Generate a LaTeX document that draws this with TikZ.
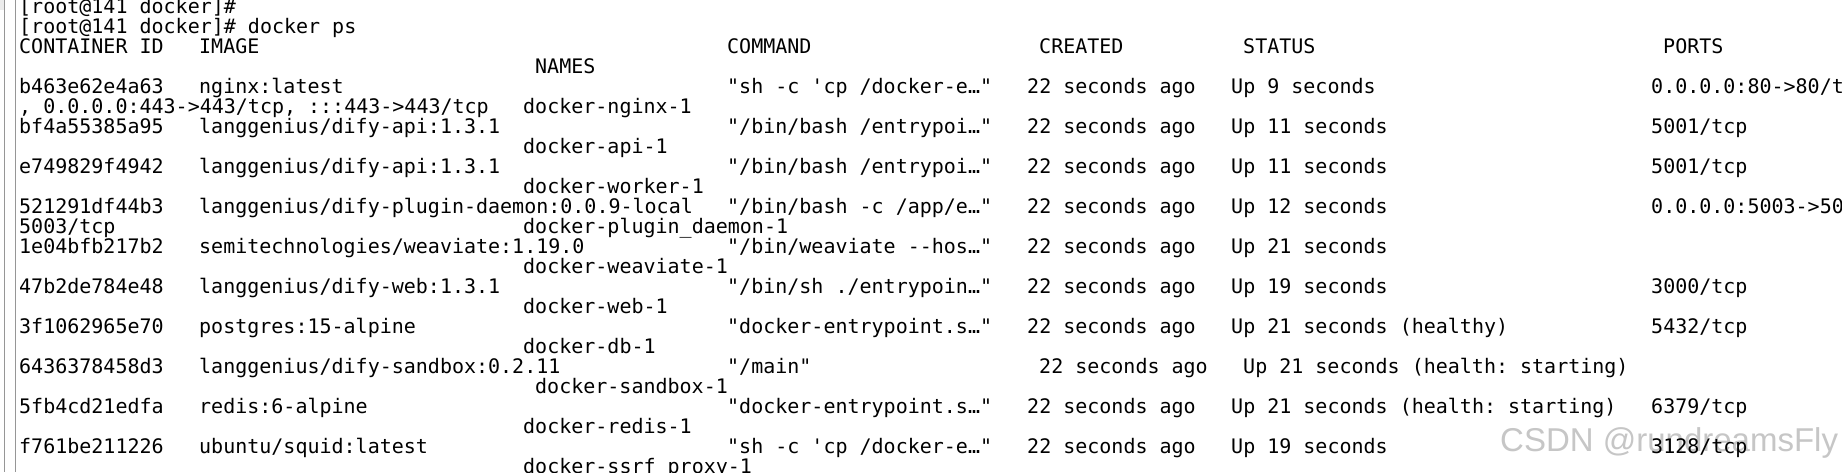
\documentclass[tikz,border=0pt]{standalone}
\usepackage{fontspec}
\setmonofont{DejaVu Sans Mono}
\newfontfamily\markfont{Liberation Sans}
\definecolor{mark}{RGB}{198,198,198}
\definecolor{frame}{RGB}{150,150,150}
\definecolor{panel}{RGB}{236,236,236}

\begin{document}
\begin{tikzpicture}[x=1pt, y=-1pt,
		term/.style={anchor=base west, inner sep=0pt, text=black, font=\ttfamily\fontsize{20}{20}\selectfont},
		wmark/.style={anchor=base west, inner sep=0pt, text=mark, font=\markfont\fontsize{33}{33}\selectfont},
		rule/.style={draw=frame, line width=1pt}
	]
		\useasboundingbox (0,0) rectangle (1842,472);
		\clip (0,0) rectangle (1842,472);
		\fill[white] (0,0) rectangle (1842,472);
		\fill[panel] (0,0) rectangle (4,10);
		\draw[rule] (4,0) -- (4,472);
		\draw[rule] (15,0) -- (15,472);

		\node[wmark] (mark) at (1500,451) {CSDN @rundreamsFly};

		\node[term] (prompt1) at (19,13) {[root@141 docker]\#};
		\node[term] (prompt2) at (19,33) {[root@141 docker]\# docker ps};

		\node[term] (hid) at (19,53) {CONTAINER ID};
		\node[term] (himage) at (199,53) {IMAGE};
		\node[term] (hcommand) at (727,53) {COMMAND};
		\node[term] (hcreated) at (1039,53) {CREATED};
		\node[term] (hstatus) at (1243,53) {STATUS};
		\node[term] (hports) at (1663,53) {PORTS};
		\node[term] (hnames) at (535,73) {NAMES};

		\node[term] (id1) at (19,93) {b463e62e4a63};
		\node[term] (img1) at (199,93) {nginx:latest};
		\node[term] (cmd1) at (727,93) {"sh -c 'cp /docker-e…"};
		\node[term] (age1) at (1027,93) {22 seconds ago};
		\node[term] (st1) at (1231,93) {Up 9 seconds};
		\node[term] (pt1) at (1651,93) {0.0.0.0:80->80/t};
		\node[term] (more1) at (19,113) {, 0.0.0.0:443->443/tcp, :::443->443/tcp};
		\node[term] (nm1) at (523,113) {docker-nginx-1};

		\node[term] (id2) at (19,133) {bf4a55385a95};
		\node[term] (img2) at (199,133) {langgenius/dify-api:1.3.1};
		\node[term] (cmd2) at (727,133) {"/bin/bash /entrypoi…"};
		\node[term] (age2) at (1027,133) {22 seconds ago};
		\node[term] (st2) at (1231,133) {Up 11 seconds};
		\node[term] (pt2) at (1651,133) {5001/tcp};
		\node[term] (nm2) at (523,153) {docker-api-1};

		\node[term] (id3) at (19,173) {e749829f4942};
		\node[term] (img3) at (199,173) {langgenius/dify-api:1.3.1};
		\node[term] (cmd3) at (727,173) {"/bin/bash /entrypoi…"};
		\node[term] (age3) at (1027,173) {22 seconds ago};
		\node[term] (st3) at (1231,173) {Up 11 seconds};
		\node[term] (pt3) at (1651,173) {5001/tcp};
		\node[term] (nm3) at (523,193) {docker-worker-1};

		\node[term] (id4) at (19,213) {521291df44b3};
		\node[term] (img4) at (199,213) {langgenius/dify-plugin-daemon:0.0.9-local};
		\node[term] (cmd4) at (727,213) {"/bin/bash -c /app/e…"};
		\node[term] (age4) at (1027,213) {22 seconds ago};
		\node[term] (st4) at (1231,213) {Up 12 seconds};
		\node[term] (pt4) at (1651,213) {0.0.0.0:5003->50};
		\node[term] (more4) at (19,233) {5003/tcp};
		\node[term] (nm4) at (523,233) {docker-plugin\_daemon-1};

		\node[term] (id5) at (19,253) {1e04bfb217b2};
		\node[term] (img5) at (199,253) {semitechnologies/weaviate:1.19.0};
		\node[term] (cmd5) at (727,253) {"/bin/weaviate --hos…"};
		\node[term] (age5) at (1027,253) {22 seconds ago};
		\node[term] (st5) at (1231,253) {Up 21 seconds};
		\node[term] (nm5) at (523,273) {docker-weaviate-1};

		\node[term] (id6) at (19,293) {47b2de784e48};
		\node[term] (img6) at (199,293) {langgenius/dify-web:1.3.1};
		\node[term] (cmd6) at (727,293) {"/bin/sh ./entrypoin…"};
		\node[term] (age6) at (1027,293) {22 seconds ago};
		\node[term] (st6) at (1231,293) {Up 19 seconds};
		\node[term] (pt6) at (1651,293) {3000/tcp};
		\node[term] (nm6) at (523,313) {docker-web-1};

		\node[term] (id7) at (19,333) {3f1062965e70};
		\node[term] (img7) at (199,333) {postgres:15-alpine};
		\node[term] (cmd7) at (727,333) {"docker-entrypoint.s…"};
		\node[term] (age7) at (1027,333) {22 seconds ago};
		\node[term] (st7) at (1231,333) {Up 21 seconds (healthy)};
		\node[term] (pt7) at (1651,333) {5432/tcp};
		\node[term] (nm7) at (523,353) {docker-db-1};

		\node[term] (id8) at (19,373) {6436378458d3};
		\node[term] (img8) at (199,373) {langgenius/dify-sandbox:0.2.11};
		\node[term] (cmd8) at (727,373) {"/main"};
		\node[term] (age8) at (1039,373) {22 seconds ago};
		\node[term] (st8) at (1243,373) {Up 21 seconds (health: starting)};
		\node[term] (nm8) at (535,393) {docker-sandbox-1};

		\node[term] (id9) at (19,413) {5fb4cd21edfa};
		\node[term] (img9) at (199,413) {redis:6-alpine};
		\node[term] (cmd9) at (727,413) {"docker-entrypoint.s…"};
		\node[term] (age9) at (1027,413) {22 seconds ago};
		\node[term] (st9) at (1231,413) {Up 21 seconds (health: starting)};
		\node[term] (pt9) at (1651,413) {6379/tcp};
		\node[term] (nm9) at (523,433) {docker-redis-1};

		\node[term] (id10) at (19,453) {f761be211226};
		\node[term] (img10) at (199,453) {ubuntu/squid:latest};
		\node[term] (cmd10) at (727,453) {"sh -c 'cp /docker-e…"};
		\node[term] (age10) at (1027,453) {22 seconds ago};
		\node[term] (st10) at (1231,453) {Up 19 seconds};
		\node[term] (pt10) at (1651,453) {3128/tcp};
		\node[term] (nm10) at (523,473) {docker-ssrf\_proxy-1};
	\end{tikzpicture}
\end{document}
